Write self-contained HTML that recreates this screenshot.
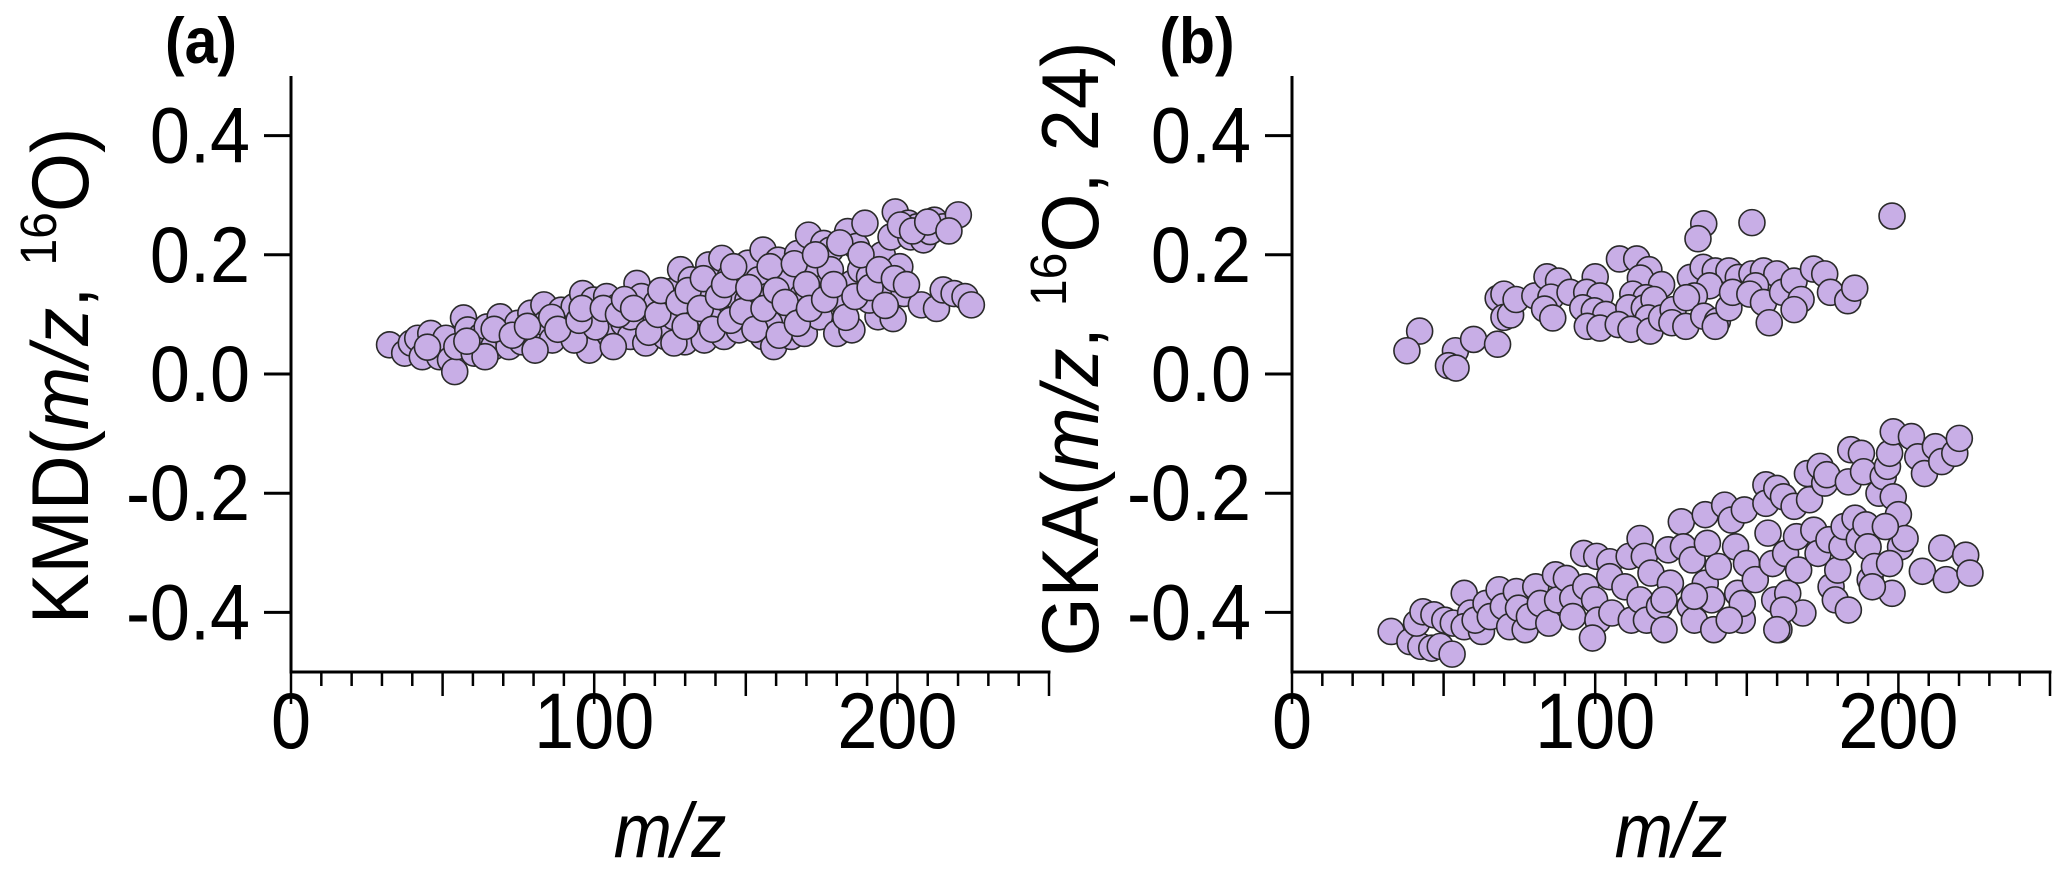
<!DOCTYPE html>
<html><head><meta charset="utf-8"><style>
html,body{margin:0;padding:0;background:#fff;}
svg{display:block;font-family:"Liberation Sans",Arial,sans-serif;}
</style></head><body>
<svg id="chart" width="2067" height="878" viewBox="0 0 2067 878">
<text transform="translate(201,63) scale(0.95,1.05)" font-size="62" font-weight="bold" text-anchor="middle">(a)</text>
<text transform="translate(1197,63) scale(0.95,1.05)" font-size="62" font-weight="bold" text-anchor="middle">(b)</text>
<text transform="translate(88,376) rotate(-90) scale(1.0,1.06)" font-size="76" text-anchor="middle">KMD(<tspan font-style="italic">m/z</tspan>, <tspan font-size="48" dy="-30">16</tspan><tspan dy="30">O)</tspan></text>
<text transform="translate(1098,349) rotate(-90) scale(1.0,1.06)" font-size="76" text-anchor="middle">GKA(<tspan font-style="italic">m/z</tspan>, <tspan font-size="48" dy="-30">16</tspan><tspan dy="30">O, 24)</tspan></text>
<text transform="translate(670,857) scale(1.0,1.1)" font-size="70" font-style="italic" text-anchor="middle">m/z</text>
<text transform="translate(1671,857) scale(1.0,1.1)" font-size="70" font-style="italic" text-anchor="middle">m/z</text>
<g id="axes"></g>
<g id="marks"></g>
</svg>
<script>
const xTicks = [0, 100, 200];
const yTicks = [0.4, 0.2, 0.0, -0.2, -0.4];
const yTickLabels = ["0.4", "0.2", "0.0", "-0.2", "-0.4"];
const xTickLabels = ["0", "100", "200"];
const panelA = [[32.5,0.049],[37.5,0.035],[39.7,0.052],[41.8,0.060],[43.3,0.029],[46.1,0.068],[47.6,0.040],[49.0,0.029],[51.1,0.060],[52.6,0.024],[54.0,0.004],[54.7,0.046],[56.9,0.094],[58.3,0.074],[60.4,0.035],[62.6,0.063],[64.7,0.079],[66.9,0.046],[69.0,0.096],[70.5,0.068],[71.9,0.046],[74.8,0.085],[76.2,0.054],[79.1,0.102],[81.2,0.068],[83.4,0.116],[84.1,0.085],[86.2,0.057],[89.1,0.107],[91.2,0.079],[93.4,0.113],[96.2,0.135],[97.0,0.068],[98.4,0.040],[99.8,0.124],[102.0,0.096],[104.1,0.130],[105.5,0.063],[107.7,0.113],[109.8,0.085],[112.0,0.063],[114.1,0.152],[115.6,0.130],[117.0,0.052],[119.2,0.091],[120.6,0.119],[123.5,0.063],[124.9,0.138],[126.3,0.096],[128.5,0.175],[129.9,0.054],[132.0,0.158],[132.8,0.124],[134.2,0.085],[136.3,0.057],[137.8,0.183],[138.5,0.141],[140.6,0.107],[142.1,0.194],[142.8,0.063],[144.9,0.163],[147.1,0.130],[147.8,0.074],[150.7,0.186],[152.1,0.096],[154.2,0.158],[155.7,0.208],[155.7,0.063],[157.1,0.130],[159.2,0.046],[160.7,0.191],[162.1,0.096],[164.3,0.158],[165.0,0.063],[167.1,0.202],[168.6,0.130],[169.3,0.068],[170.7,0.233],[172.1,0.175],[174.3,0.096],[175.7,0.219],[176.4,0.147],[177.9,0.208],[180.0,0.068],[182.2,0.119],[183.6,0.239],[185.0,0.152],[185.0,0.074],[186.5,0.214],[187.9,0.175],[189.3,0.253],[190.8,0.163],[192.2,0.124],[193.6,0.096],[195.0,0.200],[196.5,0.152],[197.9,0.230],[198.6,0.093],[199.3,0.272],[200.8,0.180],[202.2,0.135],[203.6,0.253],[204.4,0.230],[206.5,0.247],[208.6,0.225],[212.2,0.258],[215.1,0.247],[220.1,0.267],[210.8,0.239],[207.9,0.116],[212.9,0.110],[215.1,0.141],[218.7,0.135],[222.3,0.130],[224.4,0.116],[150.7,0.124],[137.8,0.096],[126.3,0.052],[117.7,0.085],[106.3,0.046],[93.4,0.057],[80.5,0.040],[64.0,0.029],[100.5,0.079],[112.0,0.096],[157.8,0.085],[177.9,0.175],[190.8,0.124],[166.4,0.113],
[45.0,0.045],[58.0,0.055],[67.0,0.075],[73.0,0.065],[78.0,0.080],[86.0,0.095],[88.0,0.075],[95.0,0.090],[96.0,0.110],[103.0,0.110],[108.0,0.100],[110.0,0.125],[113.0,0.110],[118.0,0.070],[121.0,0.100],[122.0,0.140],[128.0,0.120],[130.0,0.080],[131.0,0.140],[135.0,0.110],[136.0,0.160],[139.0,0.075],[141.0,0.130],[143.0,0.150],[145.0,0.090],[146.0,0.180],[149.0,0.105],[151.0,0.145],[153.0,0.075],[156.0,0.110],[158.0,0.180],[160.0,0.140],[161.0,0.065],[163.0,0.120],[166.0,0.185],[167.0,0.085],[170.0,0.150],[171.0,0.110],[173.0,0.200],[176.0,0.125],[179.0,0.150],[181.0,0.220],[183.0,0.095],[186.0,0.130],[188.0,0.200],[191.0,0.145],[194.0,0.175],[196.0,0.115],[199.0,0.160],[201.0,0.250],[205.0,0.240],[203.0,0.150],[210.0,0.255],[217.0,0.240]];
const panelBUpper = [[42.1,0.072],[37.9,0.039],[53.9,0.039],[51.6,0.014],[54.1,0.010],[59.9,0.058],[67.8,0.050],[68.0,0.127],[69.9,0.134],[69.9,0.095],[72.1,0.099],[73.9,0.125],[80.1,0.131],[84.1,0.163],[87.9,0.156],[85.4,0.129],[83.3,0.109],[86.0,0.094],[91.7,0.137],[100.0,0.163],[97.2,0.137],[101.6,0.131],[95.9,0.111],[99.7,0.106],[103.5,0.100],[97.4,0.080],[101.6,0.077],[108.0,0.193],[113.7,0.193],[117.7,0.175],[114.9,0.161],[121.9,0.150],[112.4,0.134],[116.8,0.128],[111.1,0.111],[116.2,0.111],[119.4,0.125],[117.5,0.094],[107.6,0.083],[111.8,0.075],[118.1,0.072],[121.9,0.094],[125.7,0.108],[125.3,0.086],[129.9,0.080],[135.8,0.252],[133.9,0.227],[151.7,0.254],[197.9,0.265],[131.4,0.162],[135.6,0.179],[139.6,0.173],[144.1,0.173],[147.2,0.162],[137.7,0.148],[132.7,0.131],[130.1,0.128],[135.8,0.097],[140.3,0.089],[139.6,0.080],[144.1,0.111],[145.3,0.137],[151.7,0.168],[155.5,0.173],[159.9,0.168],[152.9,0.148],[151.0,0.134],[155.5,0.120],[157.4,0.086],[161.8,0.137],[165.6,0.156],[167.9,0.125],[165.6,0.108],[172.0,0.176],[175.7,0.168],[177.6,0.137],[183.3,0.123],[185.6,0.144]];
const panelBLower = [[32.7,-0.432],[38.9,-0.449],[42.5,-0.457],[46.1,-0.460],[48.9,-0.457],[52.8,-0.470],[41.1,-0.418],[43.2,-0.399],[46.8,-0.404],[50.4,-0.413],[53.2,-0.418],[56.8,-0.368],[58.9,-0.401],[56.8,-0.424],[62.5,-0.432],[60.4,-0.413],[64.0,-0.385],[65.4,-0.407],[68.3,-0.362],[69.7,-0.390],[71.8,-0.424],[74.0,-0.365],[74.7,-0.393],[76.9,-0.429],[78.3,-0.407],[80.4,-0.357],[81.9,-0.385],[84.7,-0.418],[86.9,-0.337],[87.6,-0.379],[90.5,-0.343],[92.6,-0.376],[92.6,-0.407],[96.2,-0.301],[96.9,-0.357],[99.8,-0.379],[100.5,-0.306],[100.9,-0.413],[99.1,-0.443],[104.8,-0.315],[104.8,-0.340],[105.5,-0.401],[111.2,-0.306],[109.8,-0.357],[111.9,-0.413],[114.8,-0.276],[116.2,-0.306],[114.8,-0.379],[116.9,-0.413],[118.4,-0.334],[121.2,-0.390],[122.7,-0.429],[124.1,-0.295],[124.8,-0.351],[128.4,-0.248],[129.1,-0.290],[131.3,-0.390],[132.0,-0.312],[132.7,-0.413],[136.3,-0.236],[137.0,-0.284],[136.3,-0.351],[138.4,-0.379],[139.1,-0.429],[140.6,-0.323],[142.7,-0.220],[144.9,-0.245],[146.3,-0.290],[147.0,-0.368],[148.5,-0.413],[149.2,-0.228],[149.9,-0.318],[152.8,-0.345],[156.3,-0.186],[156.3,-0.217],[157.0,-0.267],[158.5,-0.318],[159.2,-0.379],[159.9,-0.192],[160.6,-0.429],[162.1,-0.206],[162.8,-0.301],[163.5,-0.368],[165.6,-0.222],[166.4,-0.273],[167.1,-0.329],[168.5,-0.401],[170.0,-0.167],[170.7,-0.211],[172.1,-0.262],[173.5,-0.301],[174.2,-0.155],[175.7,-0.183],[176.4,-0.169],[177.1,-0.278],[177.8,-0.357],[179.2,-0.379],[180.0,-0.329],[183.5,-0.396],[181.4,-0.290],[182.1,-0.256],[184.3,-0.127],[183.5,-0.181],[185.7,-0.242],[187.1,-0.278],[187.8,-0.133],[188.5,-0.164],[189.3,-0.253],[190.0,-0.290],[190.7,-0.345],[192.1,-0.323],[193.6,-0.200],[195.0,-0.172],[196.4,-0.155],[197.1,-0.133],[198.3,-0.097],[198.3,-0.206],[197.9,-0.368],[200.0,-0.236],[200.7,-0.290],[202.2,-0.276],[204.3,-0.105],[206.4,-0.139],[208.6,-0.167],[212.2,-0.122],[214.3,-0.147],[218.6,-0.133],[220.1,-0.108],[207.9,-0.331],[214.3,-0.292],[215.8,-0.345],[222.2,-0.304],[223.6,-0.334],[195.7,-0.256],[197.1,-0.318],[191.4,-0.357],[162.1,-0.396],[159.9,-0.429],[148.5,-0.385],[144.2,-0.413],[132.7,-0.373],[122.7,-0.379]];

const NS = "http://www.w3.org/2000/svg";
const axesG = document.getElementById('axes');
const marksG = document.getElementById('marks');
const Y0 = 76, Y1 = 672, XMIN = 0, XMAX = 250, YMIN = -0.5, YMAX = 0.5;
function yScale(v){ return Y1 - (v - YMIN) / (YMAX - YMIN) * (Y1 - Y0); }
function mk(tag, attrs){ const e = document.createElementNS(NS, tag); for (const k in attrs) e.setAttribute(k, attrs[k]); return e; }

function drawPanel(left, right, key, series){
  const xScale = v => left + (v - XMIN) / (XMAX - XMIN) * (right - left);
  const yAxis = mk('line', {x1:left, y1:Y0, x2:left, y2:Y1+1.5, stroke:'#000', 'stroke-width':3});
  
  
  axesG.appendChild(yAxis);
  const xAxis = mk('line', {x1:left-1.5, y1:Y1, x2:right+1.5, y2:Y1, stroke:'#000', 'stroke-width':3});
  
  
  axesG.appendChild(xAxis);
  yTicks.forEach((t, i) => {
    const y = yScale(t);
    const tk = mk('line', {x1:left-27, y1:y, x2:left, y2:y, stroke:'#000', 'stroke-width':3});
    
    
    axesG.appendChild(tk);
    const lb = mk('text', {transform:'translate(' + (left-41) + ',' + (y+27) + ') scale(1.0,1.1)', 'font-size':72, 'text-anchor':'end'});
    lb.textContent = yTickLabels[i];
    
    
    axesG.appendChild(lb);
  });
  for (let v = XMIN; v <= XMAX; v += 10) {
    const x = xScale(v);
    const len = (v % 100 === 0) ? 32 : (v % 50 === 0 ? 24 : 14);
    const tk = mk('line', {x1:x, y1:Y1, x2:x, y2:Y1+len, stroke:'#000', 'stroke-width':2.5});
    
    
    axesG.appendChild(tk);
  }
  xTicks.forEach((t, i) => {
    const lb = mk('text', {transform:'translate(' + xScale(t) + ',748) scale(1.0,1.1)', 'font-size':72, 'text-anchor':'middle'});
    lb.textContent = xTickLabels[i];
    
    
    axesG.appendChild(lb);
  });
  series.forEach(s => s.forEach(p => {
    const c = mk('circle', {cx:xScale(p[0]), cy:yScale(p[1]), r:13, fill:'#c8aee6', stroke:'#2a2a2a', 'stroke-width':1.6});
    
    
    marksG.appendChild(c);
  }));
}
drawPanel(291, 1049, 'a', [panelA]);
drawPanel(1292, 2050, 'b', [panelBUpper, panelBLower]);
</script>
</body></html>
